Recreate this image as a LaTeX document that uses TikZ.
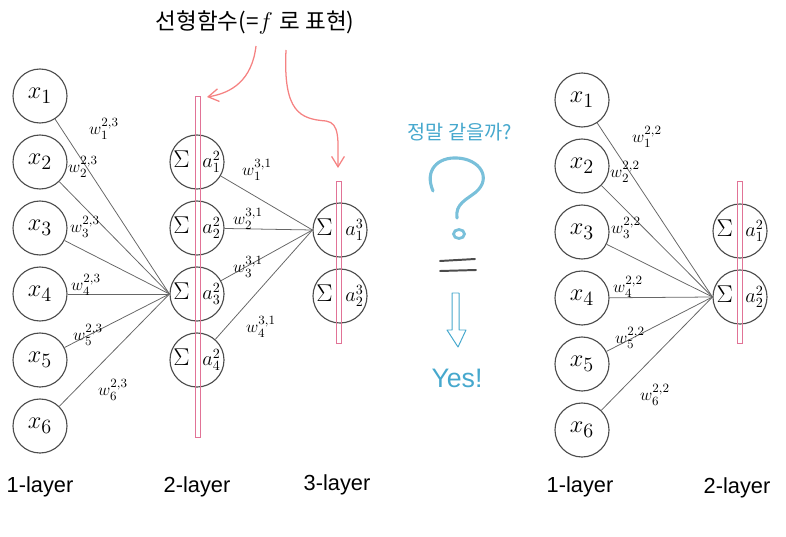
\documentclass[tikz,border=0pt]{standalone}
\usepackage{fontspec}
\setsansfont{Liberation Sans}
\newfontfamily\krfont{Noto Sans CJK KR}
\usetikzlibrary{arrows.meta, shapes.geometric}
\definecolor{barpink}{RGB}{225,115,150}
\definecolor{arrowsalmon}{RGB}{245,130,130}
\definecolor{askblue}{RGB}{70,168,205}
\newcommand{\actsize}{\fontsize{14}{14}\selectfont}
\tikzset{
  neuron/.style={circle, draw=black!70, line width=0.8pt, minimum size=1.35cm, inner sep=0pt,
    font=\fontsize{19}{19}\selectfont},
  sumneuron/.style={neuron, font=\fontsize{18}{18}\selectfont},
  pinkbar/.style={draw=barpink, line width=0.7pt},
  edge/.style={draw=black!60, line width=0.55pt},
  wlabel/.style={inner sep=0pt, font=\fontsize{13}{13}\selectfont},
  layerlabel/.style={font=\sffamily\fontsize{15.5}{15.5}\selectfont},
  curvearrow/.style={draw=arrowsalmon, line width=0.9pt, -{Straight Barb[length=2.6mm, width=3.2mm]}},
  bluetext/.style={text=askblue}
}
\begin{document}
\begin{tikzpicture}[x=0.025cm, y=-0.025cm]
  \useasboundingbox (0,0) rectangle (786,537);

  % left network: 1-layer -> 2-layer -> 3-layer
  \foreach \i/\y in {1/96,2/162,3/228,4/294,5/360,6/426}
    \node[neuron] (lx\i) at (40,\y) {$x_{\i}$};
  \foreach \i/\y in {1/162,2/228,3/294,4/360}
    \node[sumneuron] (lh\i) at (197,\y) {$\Sigma$\hspace{9pt}{\actsize$a^2_{\i}$}};
  \foreach \i/\y in {1/230,2/296}
    \node[sumneuron] (lo\i) at (340,\y) {$\Sigma$\hspace{9pt}{\actsize$a^3_{\i}$}};

  \draw[pinkbar] (195,96) rectangle (200,437);
  \draw[pinkbar] (336,181) rectangle (341,343);

  \foreach \i in {1,...,6}
    \draw[edge] (lx\i) -- (lh3.west);
  \foreach \i in {1,...,4}
    \draw[edge] (lh\i) -- (lo1.west);

  \foreach \i/\x/\y in {1/104/129,2/83/167,3/85/227,4/86/285,5/88/335,6/113/390}
    \node[wlabel] (lw\i) at (\x,\y) {$w^{2,3}_{\i}$};
  \foreach \i/\x/\y in {1/257/170,2/248/219,3/248/267,4/261/327}
    \node[wlabel] (lv\i) at (\x,\y) {$w^{3,1}_{\i}$};

  \node[layerlabel] (lay1) at (40,487) {1-layer};
  \node[layerlabel] (lay2) at (197,487) {2-layer};
  \node[layerlabel] (lay3) at (337,485) {3-layer};

  % title and pink arrows
  \node[font=\fontsize{16}{16}\selectfont] (title) at (255,22)
    {{\krfont 선형함수(=}$f$ {\krfont 로 표현)}};
  \coordinate (from2) at (256,46);
  \coordinate (to2) at (207,97);
  \coordinate (from3) at (286,50);
  \coordinate (to3) at (338,168);
  \draw[curvearrow] (from2) .. controls (252,80) and (232,93) .. (to2);
  \draw[curvearrow] (from3) .. controls (283,112) and (300,119) .. (326,121)
    .. controls (340,123) and (338,140) .. (to3);

  % middle: question
  \node[bluetext, font=\krfont\fontsize{14}{14}\selectfont] (ask) at (460,132) {정말 같을까?};
  \draw[askblue!85, line width=2.2pt, line cap=round, opacity=0.85]
    (433,191) .. controls (424,170) and (438,157) .. (457,158)
    .. controls (480,159) and (492,178) .. (476,192)
    .. controls (466,200) and (455,204) .. (457,218);
  \draw[askblue!85, line width=2pt, opacity=0.85] (459,234) ellipse [x radius=5.5, y radius=4.5];
  \draw[black!70, line width=1.4pt, line cap=round] (440,261) -- (475,259);
  \draw[black!70, line width=1.4pt, line cap=round] (440,271) -- (476,270);
  \draw[askblue, line width=0.7pt, line join=round]
    (452,293) -- (452,330) -- (447,330) -- (458,347) -- (466,330) -- (459,330) -- (459,293) -- cycle;
  \node[bluetext, font=\sffamily\fontsize{19}{19}\selectfont] (yes) at (457,378) {Yes!};

  % right network: 1-layer -> 2-layer
  \foreach \i/\y in {1/100,2/166,3/232,4/298,5/364,6/430}
    \node[neuron] (rx\i) at (582,\y) {$x_{\i}$};
  \foreach \i/\y in {1/231,2/297}
    \node[sumneuron] (rh\i) at (740,\y) {$\Sigma$\hspace{9pt}{\actsize$a^2_{\i}$}};
  \draw[pinkbar] (737,181) rectangle (742,343);
  \foreach \i in {1,...,6}
    \draw[edge] (rx\i) -- (rh2.west);
  \foreach \i/\x/\y in {1/647/137,2/625/172,3/626/228,4/628/287,5/630/338,6/655/395}
    \node[wlabel] (rw\i) at (\x,\y) {$w^{2,2}_{\i}$};

  \node[layerlabel] (ray1) at (580,487) {1-layer};
  \node[layerlabel] (ray2) at (737,488) {2-layer};
\end{tikzpicture}
\end{document}
